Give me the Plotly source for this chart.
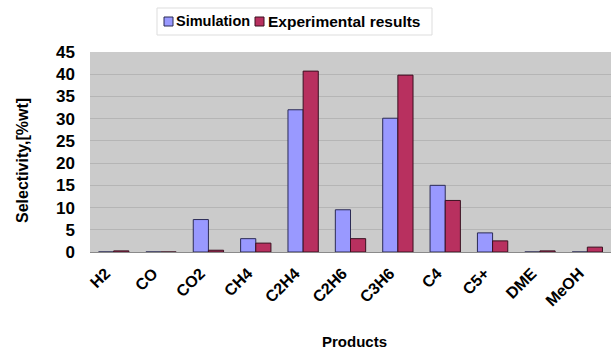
import plotly.graph_objects as go

products = ["H2", "CO", "CO2", "CH4", "C2H4", "C2H6", "C3H6", "C4", "C5+", "DME", "MeOH"]
simulation = [0.0, 0.0, 7.3, 3.0, 32.0, 9.5, 30.1, 15.0, 4.3, 0.0, 0.0]
experimental = [0.25, 0.0, 0.4, 2.0, 40.7, 3.0, 39.8, 11.6, 2.5, 0.25, 1.1]
y_ticks = [0, 5, 10, 15, 20, 25, 30, 35, 40, 45]

FONT = "Arial, Liberation Sans, sans-serif"
SIM_COLOR = "#9999FF"
EXP_COLOR = "#B8305F"

W, H = 612, 351
L, R, T, B = 90, 1, 52, 99
PW, PH = W - L - R, H - T - B


def px(x):
    return (x - L) / PW


def py(y):
    return (H - B - y) / PH


fig = go.Figure()
fig.add_trace(go.Bar(
    x=products, y=simulation, name="Simulation",
    marker=dict(color=SIM_COLOR, line=dict(color="#2B2B55", width=1)),
))
fig.add_trace(go.Bar(
    x=products, y=experimental, name="Experimental results",
    marker=dict(color=EXP_COLOR, line=dict(color="#3A1020", width=1)),
))

# compact legend box with square swatches
shapes = [
    dict(type="rect", xref="paper", yref="paper",
         x0=px(157), x1=px(432), y0=py(8), y1=py(35),
         fillcolor="white", line=dict(color="#DDDDDD", width=1), layer="above"),
    dict(type="rect", xref="paper", yref="paper",
         x0=px(164), x1=px(173), y0=py(17), y1=py(26),
         fillcolor=SIM_COLOR, line=dict(color="#2B2B55", width=1), layer="above"),
    dict(type="rect", xref="paper", yref="paper",
         x0=px(255), x1=px(264), y0=py(17), y1=py(26),
         fillcolor=EXP_COLOR, line=dict(color="#3A1020", width=1), layer="above"),
]
annotations = [
    dict(text="Simulation", xref="paper", yref="paper", x=px(174), y=py(21.5),
         xanchor="left", yanchor="middle", showarrow=False,
         font=dict(family=FONT, size=14.5, color="black", weight="bold")),
    dict(text="Experimental results", xref="paper", yref="paper", x=px(266), y=py(21.5),
         xanchor="left", yanchor="middle", showarrow=False,
         font=dict(family=FONT, size=15.5, color="black", weight="bold")),
    dict(text="Products", xref="paper", yref="paper", x=px(354), y=py(341),
         xanchor="center", yanchor="middle", showarrow=False,
         font=dict(family=FONT, size=15, color="black", weight="bold")),
    dict(text="Selectivity,[%wt]", xref="paper", yref="paper", x=px(22), y=py(161),
         xanchor="center", yanchor="middle", textangle=-90, showarrow=False,
         font=dict(family=FONT, size=16, color="black", weight="bold")),
]

fig.update_layout(
    width=W, height=H,
    margin=dict(l=L, r=R, t=T, b=B),
    paper_bgcolor="white",
    plot_bgcolor="#CBCBCB",
    barmode="group",
    bargap=0.36,
    bargroupgap=0.0,
    font=dict(family=FONT, color="black"),
    showlegend=False,
    shapes=shapes,
    annotations=annotations,
)

fig.update_xaxes(
    tickangle=-45,
    tickfont=dict(family=FONT, size=16, weight="bold"),
    ticklabelstandoff=8,
    ticklabelshift=-8,
    showgrid=False,
    showline=False,
    ticks="",
)

fig.update_yaxes(
    range=[0, 45],
    tickvals=y_ticks,
    tickfont=dict(family=FONT, size=17, weight="bold"),
    ticklabelstandoff=14,
    showgrid=True, gridcolor="#B5B5B5", gridwidth=1,
    zeroline=True, zerolinecolor="#8A8A8A", zerolinewidth=1,
    showline=False,
    ticks="",
)

fig.write_html("out.html")
